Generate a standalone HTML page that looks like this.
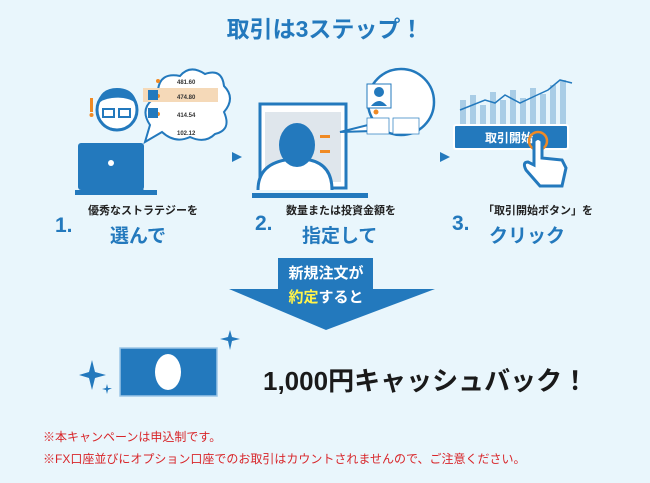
<!DOCTYPE html>
<html><head><meta charset="utf-8"><style>
body{margin:0;width:650px;height:483px;background:#e9f6fc;overflow:hidden;font-family:"Liberation Sans","Noto Sans CJK JP",sans-serif;position:relative}
.a{position:absolute;white-space:nowrap}
</style></head><body>
<svg class="a" style="left:0;top:0" width="650" height="483">
<!-- step1 -->
<g fill="#2379bd">
<path d="M95 190 Q95 150 117 145 Q140 150 142 190Z" fill="#fff" stroke="#2379bd" stroke-width="3"/>
<rect x="78" y="143" width="66" height="47" rx="3"/>
<rect x="75" y="190" width="82" height="5"/>
<circle cx="111" cy="163" r="3" fill="#fff"/>
<circle cx="117" cy="110" r="20" fill="#fff" stroke="#2379bd" stroke-width="3"/>
<path d="M97 105 Q100 88 117 88 Q134 88 137 104 Q128 96 112 98 Q102 99 97 105Z"/>
<rect x="90" y="98" width="3" height="14" fill="#f08a24"/>
<circle cx="91.5" cy="115" r="2" fill="#f08a24"/>
</g>
<rect x="103" y="109" width="11" height="8" fill="none" stroke="#2379bd" stroke-width="2"/>
<rect x="119" y="109" width="11" height="8" fill="none" stroke="#2379bd" stroke-width="2"/>
<path d="M158 90 Q160 72 180 76 Q190 64 205 74 Q222 68 224 86 Q236 98 224 112 Q232 130 215 134 Q205 144 190 137 Q175 144 162 132 L145 142 L150 125 Q140 110 152 100 Q148 92 158 90Z" fill="#fff" stroke="#2379bd" stroke-width="2"/>
<rect x="143" y="88" width="75" height="14" fill="#f5d9b8"/>
<g font-size="6" font-weight="bold" fill="#333" font-family="Liberation Sans"><text x="177" y="84">481.60</text><text x="177" y="99">474.80</text><text x="177" y="117">414.54</text><text x="177" y="135">102.12</text></g>
<g fill="#f08a24"><circle cx="158" cy="81" r="2"/><circle cx="158" cy="96" r="2"/><circle cx="158" cy="114" r="2"/></g>
<rect x="148" y="90" width="10" height="10" fill="#2379bd"/>
<rect x="148" y="108" width="10" height="10" fill="#2379bd"/>
<!-- arrows -->
<path d="M232 152 L242 157 L232 162Z" fill="#2379bd"/>
<path d="M440 152 L450 157 L440 162Z" fill="#2379bd"/>
<!-- step2 -->
<rect x="260" y="104" width="86" height="84" fill="#fff" stroke="#2379bd" stroke-width="3"/>
<rect x="265" y="112" width="76" height="70" fill="#dfe6ec"/>
<rect x="320" y="135" width="10" height="3" fill="#f08a24"/>
<rect x="320" y="150" width="10" height="3" fill="#f08a24"/>
<rect x="252" y="193" width="116" height="5" fill="#2379bd"/>
<path d="M258 190 Q258 165 285 160 L310 160 Q332 165 332 190" fill="#fff" stroke="#2379bd" stroke-width="3"/>
<ellipse cx="297" cy="145" rx="18" ry="22" fill="#2379bd"/>
<circle cx="401" cy="102" r="33" fill="#fff" stroke="#2379bd" stroke-width="2.5"/>
<path d="M340 132 L368 125 L372 131Z" fill="#fff" stroke="#2379bd" stroke-width="2"/>
<rect x="367" y="84" width="24" height="24" fill="#fff" stroke="#2379bd"/>
<circle cx="379" cy="92" r="5" fill="#2379bd"/><path d="M371 106 Q379 96 387 106Z" fill="#2379bd"/>
<circle cx="376" cy="112" r="2.5" fill="#f08a24"/>
<rect x="367" y="118" width="22" height="16" fill="#fff" stroke="#2379bd" stroke-width=".7"/>
<rect x="393" y="118" width="26" height="16" fill="#fff" stroke="#2379bd" stroke-width=".7"/>
<!-- step3 -->
<g fill="#a9cde6"><rect x="460" y="100" width="6" height="30"/><rect x="470" y="95" width="6" height="35"/><rect x="480" y="105" width="6" height="25"/><rect x="490" y="92" width="6" height="38"/><rect x="500" y="100" width="6" height="30"/><rect x="510" y="90" width="6" height="40"/><rect x="520" y="98" width="6" height="32"/><rect x="530" y="88" width="6" height="42"/><rect x="540" y="94" width="6" height="36"/><rect x="550" y="85" width="6" height="45"/><rect x="560" y="80" width="6" height="50"/></g>
<polyline points="460,110 485,100 495,103 505,95 520,103 535,96 548,90 560,80 572,83" fill="none" stroke="#2379bd" stroke-width="1.5"/>
<rect x="454" y="125" width="114" height="24" rx="2" fill="#2379bd" stroke="#fff" stroke-width="2"/>
<text x="485" y="142" font-size="12" font-weight="bold" fill="#fff" font-family="Liberation Sans,Noto Sans CJK JP,sans-serif">取引開始</text>
<circle cx="538" cy="141" r="9" fill="none" stroke="#f08a24" stroke-width="2.5"/>
<path d="M534 141 L534 165 L528 162 Q522 162 526 170 L540 186 L562 186 L566 168 L562 160 L542 158 L542 141 Q538 136 534 141Z" fill="#fff" stroke="#2379bd" stroke-width="3"/>
<!-- big arrow -->
<path d="M278 258 L373 258 L373 289 L435 289 L326 330 L229 289 L278 289Z" fill="#2379bd"/>
<!-- bill -->
<rect x="120" y="348" width="97" height="48" fill="#2379bd" stroke="#9cc6e6" stroke-width="1.5"/>
<ellipse cx="168" cy="372" rx="13" ry="18" fill="#fff"/>
<g fill="#2379bd">
<path d="M92 360 L95 372 L106 375 L95 378 L92 390 L89 378 L79 375 L89 372Z"/>
<path d="M107 384 L108 388 L112 388 L108 390 L107 394 L106 390 L102 389 L106 388Z"/>
<path d="M230 330 L232 337 L240 339 L232 341 L230 350 L228 341 L220 339 L228 337Z"/>
</g>
</svg>
<div class="a" style="left:0;width:650px;top:10px;text-align:center;font-size:23px;font-weight:bold;color:#2379bd">取引は3ステップ！</div>
<div class="a" style="left:55px;top:214px;font-size:21px;font-weight:bold;color:#2379bd">1.</div>
<div class="a" style="left:88px;top:202px;font-size:11px;font-weight:bold;color:#222">優秀なストラテジーを</div>
<div class="a" style="left:110px;top:221px;font-size:19px;font-weight:bold;color:#2379bd">選んで</div>
<div class="a" style="left:255px;top:212px;font-size:21px;font-weight:bold;color:#2379bd">2.</div>
<div class="a" style="left:286px;top:202px;font-size:11px;font-weight:bold;color:#222">数量または投資金額を</div>
<div class="a" style="left:302px;top:221px;font-size:19px;font-weight:bold;color:#2379bd">指定して</div>
<div class="a" style="left:452px;top:212px;font-size:21px;font-weight:bold;color:#2379bd">3.</div>
<div class="a" style="left:483px;top:202px;font-size:11px;font-weight:bold;color:#222">「取引開始ボタン」を</div>
<div class="a" style="left:489px;top:221px;font-size:19px;font-weight:bold;color:#2379bd">クリック</div>
<div class="a" style="left:278px;width:96px;top:262px;text-align:center;font-size:15px;font-weight:bold;color:#fff;line-height:24px">新規注文が<br><span style="color:#fff34a">約定</span>すると</div>
<div class="a" style="left:263px;top:361px;font-size:26px;font-weight:bold;color:#1a1a1a">1,000円キャッシュバック！</div>
<div class="a" style="left:43px;top:428px;font-size:12px;color:#d8262a">※本キャンペーンは申込制です。</div>
<div class="a" style="left:43px;top:450px;font-size:12px;color:#d8262a">※FX口座並びにオプション口座でのお取引はカウントされませんので、ご注意ください。</div>
</body></html>
